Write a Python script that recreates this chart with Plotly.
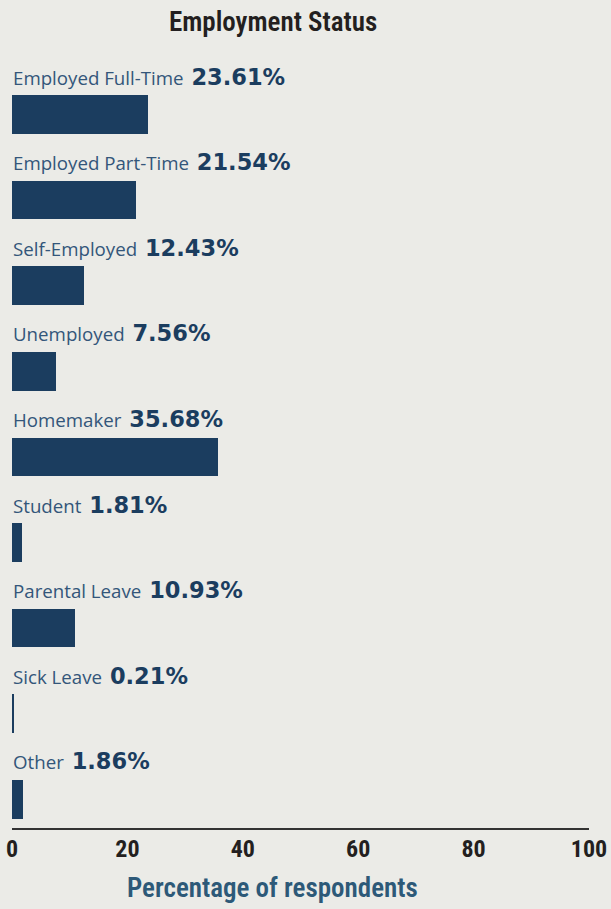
import plotly.graph_objects as go

# Survey results: share of respondents by employment status (top to bottom)
categories = [
    "Employed Full-Time",
    "Employed Part-Time",
    "Self-Employed",
    "Unemployed",
    "Homemaker",
    "Student",
    "Parental Leave",
    "Sick Leave",
    "Other",
]
percentages = [23.61, 21.54, 12.43, 7.56, 35.68, 1.81, 10.93, 0.21, 1.86]
x_ticks = [0, 20, 40, 60, 80, 100]

BG = "#ebebe7"
BAR = "#1b3d5f"
LABEL = "#33567a"
DARK = "#231f20"
AXIS_TITLE = "#2d5978"
CONDENSED = "Roboto, Liberation Sans, sans-serif"
LABEL_FONT = "Open Sans, Noto Sans, sans-serif"


def narrow(text):
    """Wrap text in a condensed-width span."""
    return f"<span style='font-stretch:75%'>{text}</span>"


fig = go.Figure(
    go.Bar(
        x=percentages,
        y=categories,
        orientation="h",
        width=0.45,
        marker=dict(color=BAR, line=dict(width=0)),
        hoverinfo="skip",
    )
)

# Category name followed by its value, sitting just above each bar
for cat, val in zip(categories, percentages):
    fig.add_annotation(
        x=0,
        y=cat,
        xref="x",
        yref="y",
        xanchor="left",
        yanchor="bottom",
        yshift=23,
        xshift=-1,
        showarrow=False,
        align="left",
        font=dict(family=LABEL_FONT, size=18.7, color=LABEL),
        text=(
            f"{cat}<span style='font-family:DejaVu Sans;font-size:22.5px;"
            f"font-weight:bold;color:{BAR}'> {val:.2f}%</span>"
        ),
    )

# Axis title, centred under the chart
fig.add_annotation(
    x=0.452,
    y=0,
    xref="paper",
    yref="paper",
    xanchor="center",
    yanchor="top",
    yshift=-42,
    showarrow=False,
    text=narrow("Percentage of respondents"),
    font=dict(family=CONDENSED, size=27, color=AXIS_TITLE, weight=600),
)

fig.update_layout(
    width=611,
    height=909,
    margin=dict(l=12, r=22, t=40, b=81),
    paper_bgcolor=BG,
    plot_bgcolor=BG,
    showlegend=False,
    bargap=0,
    title=dict(
        text=narrow("Employment Status"),
        x=0.447,
        xref="container",
        xanchor="center",
        y=0.976,
        yref="container",
        yanchor="middle",
        font=dict(family=CONDENSED, size=27, color=DARK, weight=600),
    ),
    xaxis=dict(
        range=[0, 100],
        tickvals=x_ticks,
        ticktext=[narrow(t) for t in x_ticks],
        showgrid=False,
        zeroline=False,
        showline=True,
        linecolor="#333333",
        linewidth=2,
        ticks="",
        automargin=False,
        ticklabeloverflow="allow",
        ticklabelstandoff=-2,
        tickfont=dict(family=CONDENSED, size=24, color=DARK, weight="bold"),
        fixedrange=True,
    ),
    yaxis=dict(
        type="category",
        categoryorder="array",
        categoryarray=list(reversed(categories)),
        range=[-0.335, 8.871],
        showticklabels=False,
        showgrid=False,
        zeroline=False,
        showline=False,
        ticks="",
        automargin=False,
        fixedrange=True,
    ),
)

fig.write_html("out.html")
